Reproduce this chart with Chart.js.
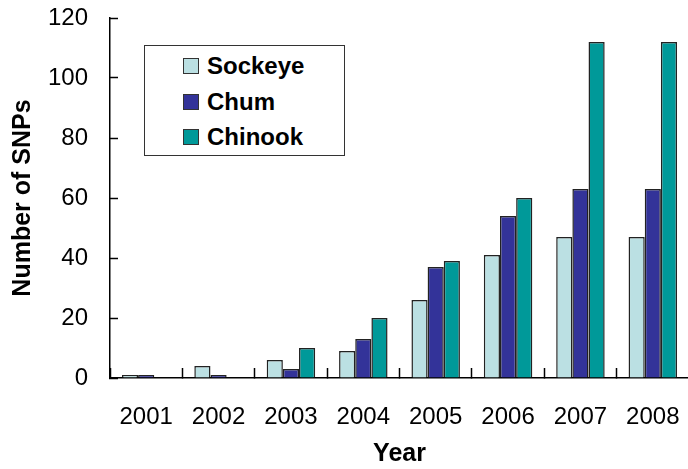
<!DOCTYPE html>
<html>
<head>
<meta charset="utf-8">
<script src="https://cdn.jsdelivr.net/npm/chart.js@4/dist/chart.umd.min.js"></script>
<style>
  html, body { margin: 0; padding: 0; background: #fff; }
  #wrap { position: relative; width: 688px; height: 469px; overflow: hidden; }
  #legend {
    position: absolute; left: 144px; top: 45px; width: 201px; height: 111px;
    border: 1.5px solid #333; box-sizing: border-box; background: #fff;
    font-family: "Liberation Sans", Arial, sans-serif; font-weight: bold; font-size: 24px;
  }
  .item { position: absolute; left: 38px; height: 28px; line-height: 28px; white-space: nowrap; }
  .sw { display: inline-block; width: 14px; height: 14px; border: 1px solid #333; vertical-align: 0px; margin-right: 8px; }
</style>
</head>
<body>
<div id="wrap">
  <canvas id="chart" width="692" height="469"></canvas>
  <div id="legend"></div>
</div>
<script>
// data
const years = ['2001', '2002', '2003', '2004', '2005', '2006', '2007', '2008'];
const sockeye = [1, 4, 6, 9, 26, 41, 47, 47];
const chum = [1, 1, 3, 13, 37, 54, 63, 63];
const chinook = [0, 0, 10, 20, 39, 60, 112, 112];
const seriesNames = ['Sockeye', 'Chum', 'Chinook'];
const seriesColors = ['#BBE0E3', '#333399', '#009999'];

const font = '"Liberation Sans", Arial, sans-serif';

const datasets = [sockeye, chum, chinook].map((d, i) => ({
    label: seriesNames[i],
    data: d,
    backgroundColor: seriesColors[i],
    borderColor: '#222',
    borderWidth: 1.5,
    categoryPercentage: 0.67,
    barPercentage: 1.0
}));

// negative tickLength puts the tick marks inside the plot, as in the original
new Chart(document.getElementById('chart'), {
    type: 'bar',
    data: { labels: years, datasets: datasets },
    options: {
        responsive: false,
        animation: false,
        layout: { padding: { top: 0, right: 3, left: 8, bottom: 0 } },
        plugins: { legend: { display: false }, tooltip: { enabled: false } },
        scales: {
            x: {
                grid: { display: true, drawOnChartArea: false, drawTicks: true, tickLength: -10, color: '#000', tickWidth: 1.5 },
                border: { color: '#000', width: 1.5 },
                ticks: { color: '#000', font: { family: font, size: 24 }, padding: 35, maxRotation: 0 },
                title: { display: true, text: 'Year', color: '#000', font: { family: font, size: 25, weight: 'bold' }, padding: { top: 6, bottom: 0 } },
                afterFit(scale) { scale.height = 91; scale.paddingLeft = 0; scale.paddingRight = 0; }
            },
            y: {
                min: 0, max: 120,
                grid: { display: true, drawOnChartArea: false, drawTicks: true, tickLength: -8, color: '#000', tickWidth: 1.5 },
                border: { color: '#000', width: 1.5 },
                ticks: { stepSize: 20, color: '#000', font: { family: font, size: 24 }, padding: 30 },
                title: { display: true, text: 'Number of SNPs', color: '#000', font: { family: font, size: 25, weight: 'bold' }, padding: { top: 0, bottom: 10 } },
                afterFit(scale) { scale.width = 102; scale.paddingTop = 18; }
            }
        }
    }
});

const legend = document.getElementById('legend');
const tops = [6, 42, 77];
seriesNames.forEach((n, i) => {
    const el = document.createElement('div');
    el.className = 'item';
    el.style.top = tops[i] + 'px';
    el.innerHTML = '<span class="sw" style="background:' + seriesColors[i] + '"></span>' + n;
    legend.appendChild(el);
});
</script>
</body>
</html>
